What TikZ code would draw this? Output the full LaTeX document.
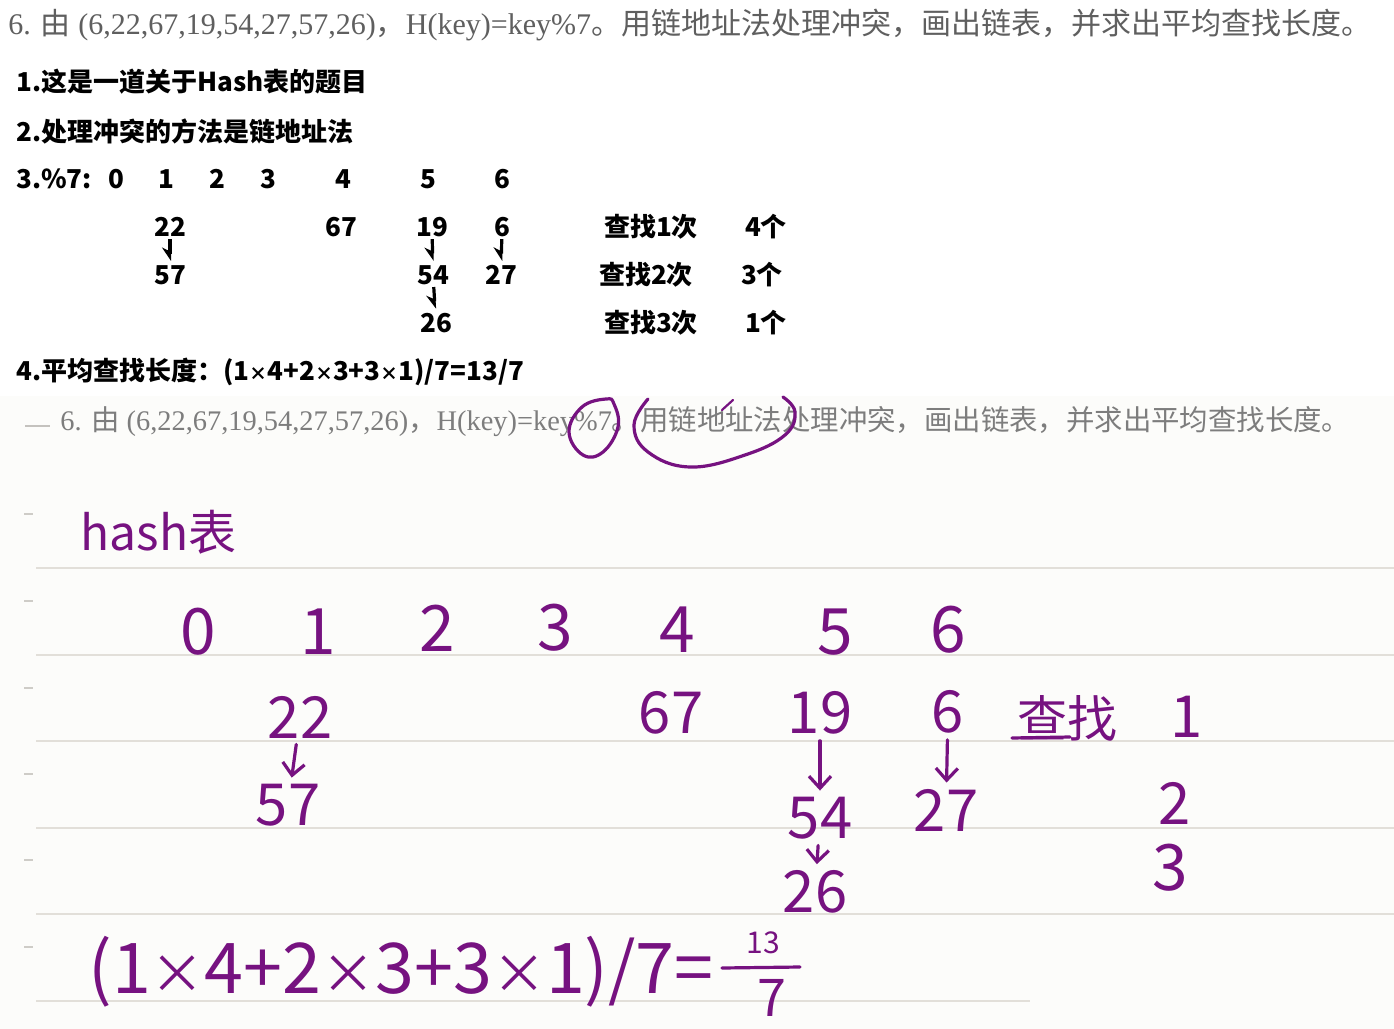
\documentclass[tikz,border=0pt]{standalone}
\usepackage{fontspec}
\setmainfont{Liberation Serif}
\newfontfamily\cjk{Noto Sans CJK SC}
\newfontfamily\serifq{Liberation Serif}
\usetikzlibrary{arrows.meta}
\definecolor{qgray}{RGB}{95,95,95}
\definecolor{qgrayb}{RGB}{125,125,125}
\definecolor{hwcol}{RGB}{118,18,128}
\definecolor{rulecol}{RGB}{226,223,217}
\definecolor{paper}{RGB}{252,252,250}
\newcommand\zh[1]{{\cjk #1}}
\newcommand\smx{{\fontsize{9}{10}\selectfont ×}}
\newcommand\hwx{{\fontsize{27}{29}\selectfont ×}}
\tikzset{
  qtext/.style={inner sep=0pt, text=qgray, font=\fontsize{15}{17}\selectfont\serifq},
  qtextb/.style={inner sep=0pt, text=qgrayb, font=\fontsize{14.2}{16}\selectfont\serifq},
  typed/.style={inner sep=0pt, font=\fontsize{13}{15}\selectfont\cjk\bfseries},
  tarrow/.style={-{Stealth[harpoon,swap,length=6pt,width=8pt]}, line width=1.6pt, shorten <=1pt, shorten >=2pt},
  hand/.style={inner sep=0pt, text=hwcol, font=\fontsize{29}{31}\selectfont\cjk},
  handbig/.style={hand, font=\fontsize{32}{34}\selectfont\cjk},
  hline/.style={draw=hwcol, line width=1.6pt, line cap=round},
  harrow/.style={hline, -{Straight Barb[length=6pt,width=11pt]}, shorten <=3pt, shorten >=3pt},
  rule/.style={draw=rulecol, line width=1pt},
  tick/.style={draw=rulecol!80!gray, line width=1pt}
}
\begin{document}
\begin{tikzpicture}[x=0.5pt,y=-0.5pt]
\useasboundingbox (0,0) rectangle (1394,1029);
\fill[white] (0,0) rectangle (1394,1029);
\fill[paper] (0,396) rectangle (1394,1029);

% ---- printed question (top) ----
\node[qtext, anchor=west] (q1) at (8,25) {6. \zh{由} (6,22,67,19,54,27,57,26)\zh{，}H(key)=key\%7\zh{。用链地址法处理冲突，画出链表，并求出平均查找长度。}};

% ---- typed notes ----
\node[typed, anchor=west] (n1) at (16,82) {1.这是一道关于Hash表的题目};
\node[typed, anchor=west] (n2) at (16,131) {2.处理冲突的方法是链地址法};
\node[typed, anchor=west] (n3) at (16,179) {3.\%7:};
\node[typed] (k0) at (116,179) {0};
\node[typed] (k1) at (166,179) {1};
\node[typed] (k2) at (217,179) {2};
\node[typed] (k3) at (268,179) {3};
\node[typed] (k4) at (343,179) {4};
\node[typed] (k5) at (428,179) {5};
\node[typed] (k6) at (502,179) {6};

\node[typed] (v22) at (170,227) {22};
\node[typed] (v67) at (341,227) {67};
\node[typed] (v19) at (432,227) {19};
\node[typed] (v6)  at (502,227) {6};
\node[typed] (v57) at (170,275) {57};
\node[typed] (v54) at (433,275) {54};
\node[typed] (v27) at (501,275) {27};
\node[typed] (v26) at (436,323) {26};

\node[typed] (s1) at (651,227) {查找1次};
\node[typed] (c1) at (766,227) {4个};
\node[typed] (s2) at (646,275) {查找2次};
\node[typed] (c2) at (762,275) {3个};
\node[typed] (s3) at (651,323) {查找3次};
\node[typed] (c3) at (766,323) {1个};

\draw[tarrow] (v22) -- (v57);
\draw[tarrow] (v19) -- (v54);
\draw[tarrow] (v6) -- (v27);
\draw[tarrow] (v54) -- (v26);

\node[typed, anchor=west] (n4) at (16,372) {4.平均查找长度：(1\smx4+2\smx3+3\smx1)/7=13/7};

% ---- printed question (second copy) ----
\draw[draw=rulecol!70!gray, line width=1pt] (25,426) -- (50,426);
\node[qtextb, anchor=west] (q2) at (60,422) {6. \zh{由} (6,22,67,19,54,27,57,26)\zh{，}H(key)=key\%7\zh{。用链地址法处理冲突，画出链表，并求出平均查找长度。}};

% annotations
\draw[hline] plot[smooth cycle, tension=0.7] coordinates {(606,399) (582,407) (569,432) (583,455) (603,452) (618,427) (614,404)};
\draw[hline] plot[smooth, tension=0.7] coordinates {(648,399) (634,425) (648,452) (690,467) (745,455) (785,435) (795,412) (783,397)};
\draw[hline, line width=1.1pt] (733,400) -- (722,410);

% ---- ruled paper ----
\foreach \yy in {568,655,741,828,914} { \draw[rule] (36,\yy) -- (1394,\yy); }
\draw[rule] (36,1001) -- (1030,1001);
\foreach \yy in {514,601,688,774,860,947} { \draw[tick] (24,\yy) -- (33,\yy); }

% ---- handwriting ----
\node[hand, anchor=west, font=\fontsize{24}{26}\selectfont\cjk] (ht) at (80,532) {hash表};

\node[handbig] (h0) at (198,632) {0};
\node[handbig] (h1) at (318,632) {1};
\node[handbig] (h2) at (437,628) {2};
\node[handbig] (h3) at (555,628) {3};
\node[handbig] (h4) at (677,630) {4};
\node[handbig] (h5) at (835,632) {5};
\node[handbig] (h6) at (948,630) {6};

\node[hand] (w22) at (300,717) {22};
\node[hand] (w67) at (671,713) {67};
\node[hand] (w19) at (820,713) {19};
\node[hand] (w6)  at (948,712) {6};
\node[hand, font=\fontsize{25}{27}\selectfont\cjk] (wcz) at (1067,718) {查找};
\draw[hline] (1012,738) -- (1070,737);
\node[hand] (wn1) at (1187,717) {1};

\node[hand] (w57) at (288,805) {57};
\node[hand] (w54) at (820,818) {54};
\node[hand] (w27) at (946,810) {27};
\node[hand] (wn2) at (1175,803) {2};
\node[hand] (w26) at (815,892) {26};
\node[handbig] (wn3) at (1170,868) {3};

\draw[harrow] (w22) -- (w57);
\draw[harrow] (w19) -- (w54);
\draw[harrow] (w6) -- (w27);
\draw[harrow] (w54) -- (w26);

\node[handbig, anchor=west, font=\fontsize{35}{37}\selectfont\cjk] (wf) at (88,972) {(1\hwx4+2\hwx3+3\hwx1)/7=};
\node[hand, font=\fontsize{15}{17}\selectfont\cjk] (wf13) at (763,943) {13};
\node[hand, font=\fontsize{26}{28}\selectfont\cjk] (wf7) at (772,998) {7};
\draw[hline] (722,968) -- (800,967);
\end{tikzpicture}
\end{document}
